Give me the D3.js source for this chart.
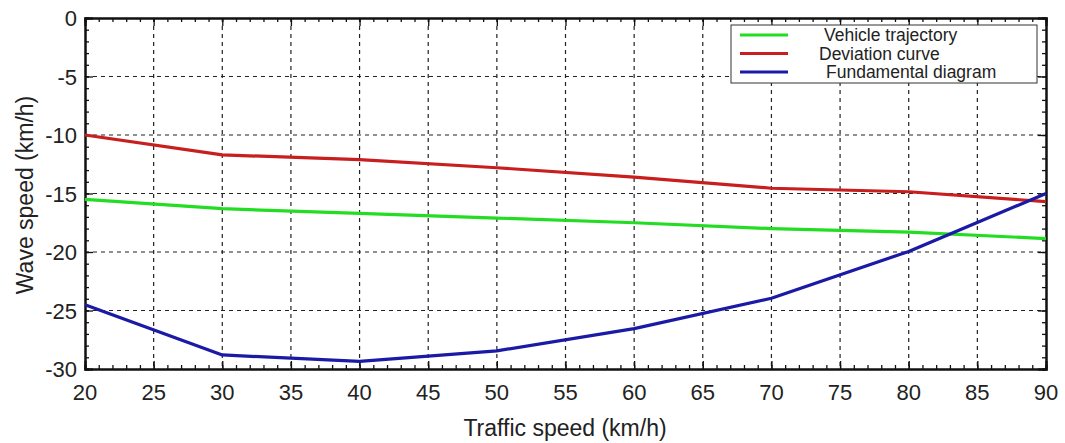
<!DOCTYPE html>
<html>
<head>
<meta charset="utf-8">
<script src="https://cdn.jsdelivr.net/npm/d3@7"></script>
<style>
  body { margin: 0; background: #fff; }
  text { font-family: "Liberation Sans", Arial, sans-serif; fill: #222; }
</style>
</head>
<body>
<div id="chart"></div>
<script>
// data
var speeds = [20, 30, 40, 50, 60, 70, 80, 90];
var vehicleTrajectory = [-15.5, -16.3, -16.7, -17.1, -17.5, -18.0, -18.3, -18.85];
var deviationCurve = [-10.0, -11.7, -12.1, -12.8, -13.6, -14.55, -14.85, -15.7];
var fundamentalDiagram = [-24.5, -28.8, -29.35, -28.45, -26.55, -23.95, -19.95, -15.0];
var xTicks = [20, 25, 30, 35, 40, 45, 50, 55, 60, 65, 70, 75, 80, 85, 90];
var yTicks = [0, -5, -10, -15, -20, -25, -30];
var seriesNames = ['Vehicle trajectory', 'Deviation curve', 'Fundamental diagram'];

var green = '#22dd22',
    red = '#c81e1e',
    blue = '#1a1aa6';

var pic_width = 1065,
    pic_height = 443;

var margin = { top: 18, right: 19, bottom: 74, left: 85 };
var width = pic_width - margin.left - margin.right,
    height = pic_height - margin.top - margin.bottom;

var series = [
  { name: seriesNames[0], values: vehicleTrajectory, color: green },
  { name: seriesNames[1], values: deviationCurve, color: red },
  { name: seriesNames[2], values: fundamentalDiagram, color: blue }
];

var xScale = d3.scaleLinear().domain([20, 90]).range([0, width]);
var yScale = d3.scaleLinear().domain([-30, 0]).range([height, 0]);

var svg = d3.select('#chart').append('svg')
    .attr('width', pic_width)
    .attr('height', pic_height);

var g = svg.append('g')
    .attr('transform', 'translate(' + margin.left + ',' + margin.top + ')');

// dashed grid
g.append('g').selectAll('line').data(xTicks.slice(1, -1))
  .enter().append('line')
    .attr('x1', function(d) { return xScale(d); })
    .attr('x2', function(d) { return xScale(d); })
    .attr('y1', 0).attr('y2', height)
    .attr('stroke', '#222').attr('stroke-width', 1.2)
    .attr('stroke-dasharray', '4,4');

g.append('g').selectAll('line').data(yTicks.slice(1, -1))
  .enter().append('line')
    .attr('x1', 0).attr('x2', width)
    .attr('y1', function(d) { return yScale(d); })
    .attr('y2', function(d) { return yScale(d); })
    .attr('stroke', '#222').attr('stroke-width', 1.2)
    .attr('stroke-dasharray', '4,4');

// minor ticks, pointing inwards
var xMinor = d3.range(20, 91, 1), yMinor = d3.range(-30, 1, 1);

function inwardAxis(axis, ticks, size) {
  return axis.tickValues(ticks).tickSize(-size).tickFormat('');
}

g.append('g').attr('transform', 'translate(0,' + height + ')')
  .call(inwardAxis(d3.axisBottom(xScale), xMinor, 4));
g.append('g').call(inwardAxis(d3.axisTop(xScale), xMinor, 4));
g.append('g').call(inwardAxis(d3.axisLeft(yScale), yMinor, 4));
g.append('g').attr('transform', 'translate(' + width + ',0)')
  .call(inwardAxis(d3.axisRight(yScale), yMinor, 4));

// major ticks
g.append('g').attr('transform', 'translate(0,' + height + ')')
  .call(inwardAxis(d3.axisBottom(xScale), xTicks, 8));
g.append('g').call(inwardAxis(d3.axisTop(xScale), xTicks, 8));
g.append('g').call(inwardAxis(d3.axisLeft(yScale), yTicks, 8));
g.append('g').attr('transform', 'translate(' + width + ',0)')
  .call(inwardAxis(d3.axisRight(yScale), yTicks, 8));

g.selectAll('.domain').attr('stroke', '#111').attr('stroke-width', 2);
g.selectAll('.tick line').attr('stroke', '#111').attr('stroke-width', 1.3);

// tick labels
g.append('g').selectAll('text').data(xTicks)
  .enter().append('text')
    .attr('x', function(d) { return xScale(d); })
    .attr('y', height + 31)
    .attr('text-anchor', 'middle')
    .style('font-size', '22px')
    .text(function(d) { return d; });

g.append('g').selectAll('text').data(yTicks)
  .enter().append('text')
    .attr('x', -8)
    .attr('y', function(d) { return yScale(d) + 8; })
    .attr('text-anchor', 'end')
    .style('font-size', '22px')
    .text(function(d) { return d; });

// axis titles
svg.append('text')
    .attr('x', 565)
    .attr('y', 436)
    .attr('text-anchor', 'middle')
    .style('font-size', '23px')
    .text('Traffic speed (km/h)');

svg.append('text')
    .attr('transform', 'translate(33,195) rotate(-90)')
    .attr('text-anchor', 'middle')
    .style('font-size', '23px')
    .text('Wave speed (km/h)');

// lines
var line = d3.line()
    .x(function(d, i) { return xScale(speeds[i]); })
    .y(function(d) { return yScale(d); });

g.append('g').selectAll('path').data(series)
  .enter().append('path')
    .attr('d', function(d) { return line(d.values); })
    .attr('fill', 'none')
    .attr('stroke', function(d) { return d.color; })
    .attr('stroke-width', 3.2)
    .attr('stroke-linejoin', 'round');

// legend
var legend = svg.append('g').attr('transform', 'translate(731,25)');
legend.append('rect')
    .attr('width', 306).attr('height', 58)
    .attr('fill', '#fff').attr('stroke', '#333').attr('stroke-width', 1);

var rows = legend.selectAll('g.row').data(series)
  .enter().append('g')
    .attr('transform', function(d, i) { return 'translate(0,' + (10 + i * 18.5) + ')'; });

rows.append('line')
    .attr('x1', 9).attr('x2', 57)
    .attr('stroke', function(d) { return d.color; })
    .attr('stroke-width', 3.2);

rows.append('text')
    .attr('x', function(d, i) { return [93, 88, 95][i]; })
    .attr('y', 6)
    .style('font-size', '17.5px')
    .text(function(d) { return d.name; });
</script>
</body>
</html>
